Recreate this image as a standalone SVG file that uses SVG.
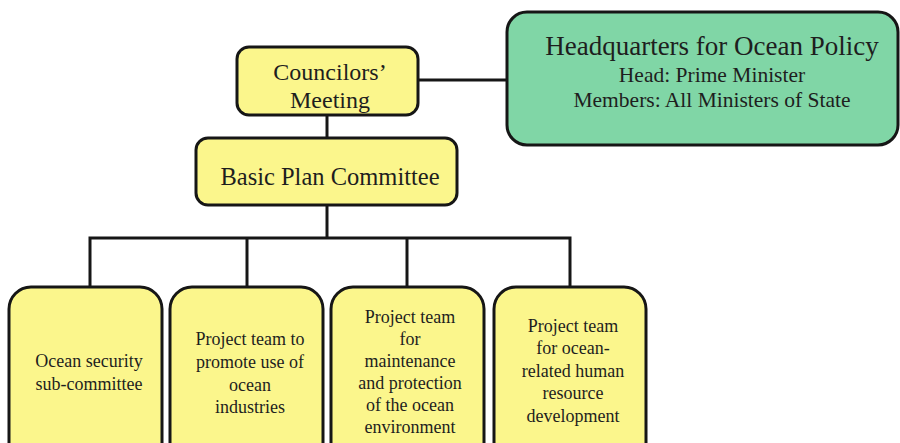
<svg xmlns="http://www.w3.org/2000/svg" width="900" height="443" viewBox="0 0 900 443">
  <style>
    .box { stroke: #161616; stroke-width: 3; }
    .yellow { fill: #fbf68c; }
    .green { fill: #80d6a6; }
    .wire { fill: none; stroke: #161616; stroke-width: 3; }
    text { font-family: "Liberation Serif", "Times New Roman", serif; fill: #1e1e1e; text-anchor: middle; }
    .t-hq { font-size: 27px; }
    .t-bp { font-size: 24.5px; }
    .t-cm { font-size: 24px; }
    .t-hq2 { font-size: 21.5px; }
    .t-sm { font-size: 18px; }
  </style>
  <rect width="900" height="443" fill="#ffffff"/>

  <!-- connectors -->
  <g id="connectors">
    <line class="wire" x1="418" y1="80" x2="508" y2="80"/>
    <line class="wire" x1="327" y1="115" x2="327" y2="138"/>
    <line class="wire" x1="327" y1="205" x2="327" y2="238"/>
    <polyline class="wire" points="90,287 90,238 570,238 570,287"/>
    <line class="wire" x1="247" y1="238" x2="247" y2="287"/>
    <line class="wire" x1="407" y1="238" x2="407" y2="287"/>
  </g>

  <g id="councilors-meeting">
    <rect class="box yellow" x="237" y="47" width="181" height="68" rx="12"/>
    <text class="t-cm" x="330" y="80">Councilors’</text>
    <text class="t-cm" x="330" y="108">Meeting</text>
  </g>

  <g id="headquarters">
    <rect class="box green" x="507" y="12" width="391" height="133" rx="20"/>
    <text class="t-hq" x="712" y="55">Headquarters for Ocean Policy</text>
    <text class="t-hq2" x="712" y="82">Head: Prime Minister</text>
    <text class="t-hq2" x="712" y="107">Members: All Ministers of State</text>
  </g>

  <g id="basic-plan-committee">
    <rect class="box yellow" x="196" y="138" width="261" height="67" rx="12"/>
    <text class="t-bp" x="330" y="185">Basic Plan Committee</text>
  </g>

  <g id="ocean-security">
    <rect class="box yellow" x="9" y="287" width="153" height="180" rx="22"/>
    <text class="t-sm" x="89" y="367">Ocean security</text>
    <text class="t-sm" x="89" y="390">sub-committee</text>
  </g>

  <g id="ocean-industries">
    <rect class="box yellow" x="170" y="287" width="153" height="180" rx="22"/>
    <text class="t-sm" x="250" y="345">Project team to</text>
    <text class="t-sm" x="250" y="368">promote use of</text>
    <text class="t-sm" x="250" y="391">ocean</text>
    <text class="t-sm" x="250" y="413">industries</text>
  </g>

  <g id="ocean-environment">
    <rect class="box yellow" x="331" y="287" width="153" height="180" rx="22"/>
    <text class="t-sm" x="410" y="323">Project team</text>
    <text class="t-sm" x="410" y="345">for</text>
    <text class="t-sm" x="410" y="367">maintenance</text>
    <text class="t-sm" x="410" y="389">and protection</text>
    <text class="t-sm" x="410" y="411">of the ocean</text>
    <text class="t-sm" x="410" y="433">environment</text>
  </g>

  <g id="human-resources">
    <rect class="box yellow" x="494" y="287" width="152" height="180" rx="22"/>
    <text class="t-sm" x="573" y="332">Project team</text>
    <text class="t-sm" x="573" y="354">for ocean-</text>
    <text class="t-sm" x="573" y="377">related human</text>
    <text class="t-sm" x="573" y="399">resource</text>
    <text class="t-sm" x="573" y="422">development</text>
  </g>
</svg>
